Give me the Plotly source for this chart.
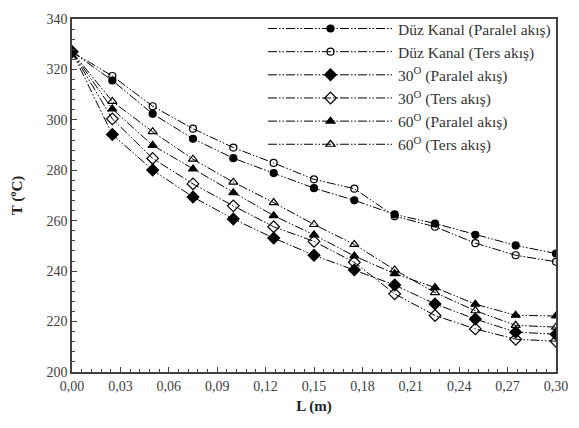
import plotly.graph_objects as go

L = [0.0, 0.025, 0.05, 0.075, 0.1, 0.125, 0.15, 0.175, 0.2, 0.225, 0.25, 0.275, 0.3]

duz_paralel = [327, 315.6, 302.4, 292.5, 284.8, 278.9, 272.9, 268.1, 262.5, 258.9, 254.4, 250.2, 247.0]
duz_ters = [327, 317.4, 305.4, 296.5, 289.0, 282.9, 276.4, 272.7, 261.8, 257.6, 251.1, 246.3, 243.7]
a30_paralel = [327, 294.2, 280.1, 269.4, 260.7, 253.1, 246.3, 240.5, 234.5, 227.0, 221.0, 215.8, 215.0]
a30_ters = [327, 300.4, 284.7, 274.6, 265.9, 257.6, 251.8, 243.5, 231.0, 222.4, 217.1, 213.0, 212.2]
a60_paralel = [327, 304.3, 289.9, 280.5, 271.1, 262.0, 254.4, 246.0, 239.0, 233.5, 226.9, 222.5, 222.2]
a60_ters = [327, 307.3, 295.3, 284.4, 275.3, 267.2, 258.5, 250.6, 240.5, 231.5, 224.3, 218.5, 217.8]

names = [
    "Düz Kanal (Paralel akış)",
    "Düz Kanal (Ters akış)",
    "30<sup>O</sup> (Paralel akış)",
    "30<sup>O</sup> (Ters akış)",
    "60<sup>O</sup> (Paralel akış)",
    "60<sup>O</sup> (Ters akış)",
]
series = [duz_paralel, duz_ters, a30_paralel, a30_ters, a60_paralel, a60_ters]
symbols = ["circle", "circle-open", "diamond", "diamond-open", "triangle-up", "triangle-up-open"]
sizes = [7, 7, 9, 9, 8, 8]

x_ticks = [0.0, 0.03, 0.06, 0.09, 0.12, 0.15, 0.18, 0.21, 0.24, 0.27, 0.30]
x_ticklabels = ["0,00", "0,03", "0,06", "0,09", "0,12", "0,15", "0,18", "0,21", "0,24", "0,27", "0,30"]
y_ticks = [200, 220, 240, 260, 280, 300, 320, 340]

fig = go.Figure()
for nm, ys, sym, sz in zip(names, series, symbols, sizes):
    fig.add_trace(go.Scatter(
        x=L, y=ys, name=nm, mode="lines+markers",
        line=dict(color="black", width=1, dash="9px,2px,1.5px,2px,1.5px,2px"),
        marker=dict(symbol=sym, size=sz, color="black",
                    line=dict(color="black", width=1.2)),
    ))

axis_font = dict(family="Liberation Serif", size=14, color="#404040")
fig.update_layout(
    width=579, height=428,
    margin=dict(l=72, r=23, t=15, b=56),
    paper_bgcolor="white", plot_bgcolor="white",
    font=dict(family="Liberation Serif", size=14, color="#333333"),
    showlegend=True,
    legend=dict(
        x=1, y=1.02, xanchor="right", yanchor="top",
        bgcolor="rgba(255,255,255,0)",
        itemwidth=125,
        font=dict(family="Liberation Serif", size=15.5, color="#333333"),
        tracegroupgap=0,
    ),
    xaxis=dict(
        range=[0, 0.30], tickvals=x_ticks, ticktext=x_ticklabels,
        ticks="inside", ticklen=5, tickcolor="#404040",
        showline=True, linecolor="#404040", linewidth=1.5, mirror=True,
        showgrid=False, zeroline=False, tickfont=axis_font,
        minor=dict(dtick=0.006, ticks="inside", ticklen=3, tickcolor="#404040"),
        title=dict(text="<b>L (m)</b>", font=dict(family="Liberation Serif", size=15, color="#222222"), standoff=8),
    ),
    yaxis=dict(
        range=[200, 340], tickvals=y_ticks,
        ticks="inside", ticklen=5, tickcolor="#404040",
        showline=True, linecolor="#404040", linewidth=1.5, mirror=True,
        showgrid=False, zeroline=False, tickfont=axis_font,
        minor=dict(dtick=4, ticks="inside", ticklen=3, tickcolor="#404040"),
        title=dict(text="<b>T (<sup>o</sup>C)</b>", font=dict(family="Liberation Serif", size=15, color="#222222"), standoff=20),
    ),
)

fig.write_html("out.html")
